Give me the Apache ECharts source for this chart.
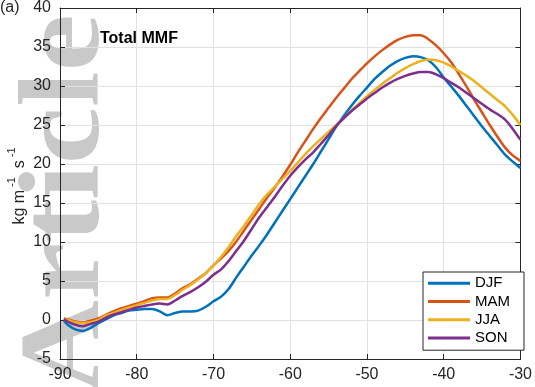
<!DOCTYPE html>
<html>
<head>
<meta charset="utf-8">
<script src="https://cdn.jsdelivr.net/npm/echarts@6/dist/echarts.min.js"></script>
<style>html,body{margin:0;padding:0;background:#fff}#c{width:535px;height:387px}</style>
</head>
<body>
<div id="c"></div>
<script>
const lon = [-89.5,-89,-88,-87,-86,-85,-84,-83,-82,-81,-80,-79,-78,-77,-76,-75,-74,-73,-72,-71,-70,-69,-68,-67,-66,-65,-64,-63,-62,-61,-60,-59,-58,-57,-56,-55,-54,-53,-52,-51,-50,-49,-48,-47,-46,-45,-44,-43,-42,-41,-40,-39,-38,-37,-36,-35,-34,-33,-32,-31,-30];
const djf = [-0.1,-0.6,-1.2,-1.4,-1.0,-0.4,0.1,0.6,0.9,1.2,1.3,1.4,1.4,1.1,0.6,0.9,1.1,1.1,1.2,1.7,2.4,3.0,4.0,5.5,6.9,8.3,9.6,11.0,12.5,14.0,15.5,17.0,18.5,20.0,21.6,23.2,24.8,26.2,27.5,28.7,29.8,30.9,31.8,32.6,33.2,33.6,33.8,33.7,33.3,32.4,31.1,29.9,28.7,27.4,26.1,24.8,23.6,22.4,21.2,20.3,19.5];
const mam = [0.2,0.1,-0.2,-0.3,-0.1,0.2,0.7,1.1,1.5,1.8,2.1,2.4,2.8,2.9,2.9,3.4,4.1,4.6,5.3,6.0,7.0,7.9,8.9,10.1,11.5,12.9,14.3,15.7,17.0,18.4,19.9,21.5,23.0,24.5,25.9,27.2,28.5,29.7,30.9,31.9,32.9,33.8,34.6,35.3,35.9,36.3,36.5,36.5,36.0,35.2,34.2,33.0,31.5,29.9,28.2,26.6,25.0,23.5,22.1,21.1,20.4];
const jja = [0.1,0.0,-0.3,-0.4,-0.3,0.0,0.6,0.9,1.3,1.6,1.9,2.2,2.5,2.7,2.7,3.2,3.9,4.5,5.2,6.0,7.0,8.1,9.4,10.8,12.1,13.5,14.9,16.1,17.1,18.1,19.1,20.2,21.3,22.3,23.2,24.1,25.0,25.9,26.9,27.8,28.7,29.5,30.3,31.0,31.7,32.3,32.8,33.2,33.4,33.3,33.0,32.5,31.9,31.3,30.6,29.8,29.0,28.2,27.4,26.3,25.0];
const son = [0.1,-0.2,-0.6,-0.8,-0.5,-0.2,0.3,0.7,1.0,1.3,1.6,1.8,2.0,2.1,2.0,2.5,3.1,3.6,4.2,4.9,5.8,6.5,7.6,8.9,10.2,11.7,13.2,14.5,15.8,17.2,18.5,19.6,20.6,21.5,22.6,23.7,24.9,25.9,26.8,27.6,28.4,29.1,29.8,30.4,30.9,31.3,31.6,31.8,31.8,31.5,31.0,30.4,29.8,29.1,28.4,27.7,27.0,26.4,25.7,24.5,23.1];
const seriesNames = ['DJF','MAM','JJA','SON'];
const seriesColors = ['#0072BD','#D95319','#EDB120','#7E2F8E'];
const xTicks = [-90,-80,-70,-60,-50,-40,-30];
const yTicks = [-5,0,5,10,15,20,25,30,35,40];

const chart = echarts.init(document.getElementById('c'), null, {renderer:'canvas'});
const allData = [djf, mam, jja, son];
const axisCol = '#262626';
const gridCol = '#e1e1e1';
const font = 'Liberation Sans, Arial, Helvetica, sans-serif';

const baseX = {
  type:'value', min:xTicks[0], max:xTicks[xTicks.length-1], interval:10,
  axisLine:{show:true, onZero:false, lineStyle:{color:axisCol, width:1}},
  axisTick:{show:true, inside:true, length:5, lineStyle:{color:axisCol}},
  splitLine:{show:false}
};
const baseY = {
  type:'value', min:yTicks[0], max:yTicks[yTicks.length-1], interval:5,
  axisLine:{show:true, onZero:false, lineStyle:{color:axisCol, width:1}},
  axisTick:{show:true, inside:true, length:5, lineStyle:{color:axisCol}},
  splitLine:{show:false}
};

chart.setOption({
  animation:false,
  backgroundColor:'#fff',
  textStyle:{fontFamily:font},
  grid:{left:60, right:10, top:8, bottom:28, containLabel:false},
  title:{text:'Total MMF', left:100, top:31, padding:0,
    textStyle:{fontSize:16, fontWeight:'bold', color:'#000', fontFamily:font}},
  legend:{
    orient:'vertical', left:423, top:272,
    data:seriesNames,
    icon:'rect', itemWidth:42, itemHeight:3, itemGap:0,
    padding:[2,14,3,5],
    borderColor:axisCol, borderWidth:1, backgroundColor:'#fff',
    textStyle:{fontSize:15, color:'#000', fontFamily:font, lineHeight:18.3}
  },
  xAxis:[
    Object.assign({}, baseX, {position:'bottom',
      axisLabel:{show:true, fontSize:16, color:axisCol, margin:8, fontFamily:font},
      splitLine:{show:true, lineStyle:{color:gridCol, width:1}}}),
    Object.assign({}, baseX, {position:'top', axisLabel:{show:false}})
  ],
  yAxis:[
    Object.assign({}, baseY, {position:'left',
      axisLabel:{show:true, fontSize:16, color:axisCol, margin:9, fontFamily:font},
      splitLine:{show:true, lineStyle:{color:gridCol, width:1}}}),
    Object.assign({}, baseY, {position:'right', axisLabel:{show:false}})
  ],
  graphic:[
    {type:'text', z:-10, zlevel:0, x:126, y:393, rotation:Math.PI/2, scaleX:1.12,
      style:{text:'Article', fill:'#c9c9c9', font:'bold 115px "Liberation Serif", "DejaVu Serif", serif', textAlign:'left', textVerticalAlign:'bottom'}},
    {type:'text', x:0, y:0, style:{text:'(a)', fill:axisCol, font:'16px '+font, textAlign:'left', textVerticalAlign:'top'}},
    {type:'text', x:17, y:186, rotation:Math.PI/2,
      style:{text:'{a|kg m}{b| -1}{a|  s}{b| -1}', textAlign:'center', textVerticalAlign:'middle',
        rich:{a:{fontSize:16, fill:axisCol, fontFamily:font, verticalAlign:'bottom', lineHeight:22},
              b:{fontSize:11, fill:axisCol, fontFamily:font, verticalAlign:'top', lineHeight:22}}}}
  ],
  series: allData.map((d,i)=>({
    name:seriesNames[i], type:'line', xAxisIndex:0, yAxisIndex:0,
    data: lon.map((x,j)=>[x,d[j]]),
    showSymbol:false, symbol:'none', smooth:0.25,
    lineStyle:{color:seriesColors[i], width:2.5},
    itemStyle:{color:seriesColors[i]},
    z:3
  }))
});
</script>
</body>
</html>
